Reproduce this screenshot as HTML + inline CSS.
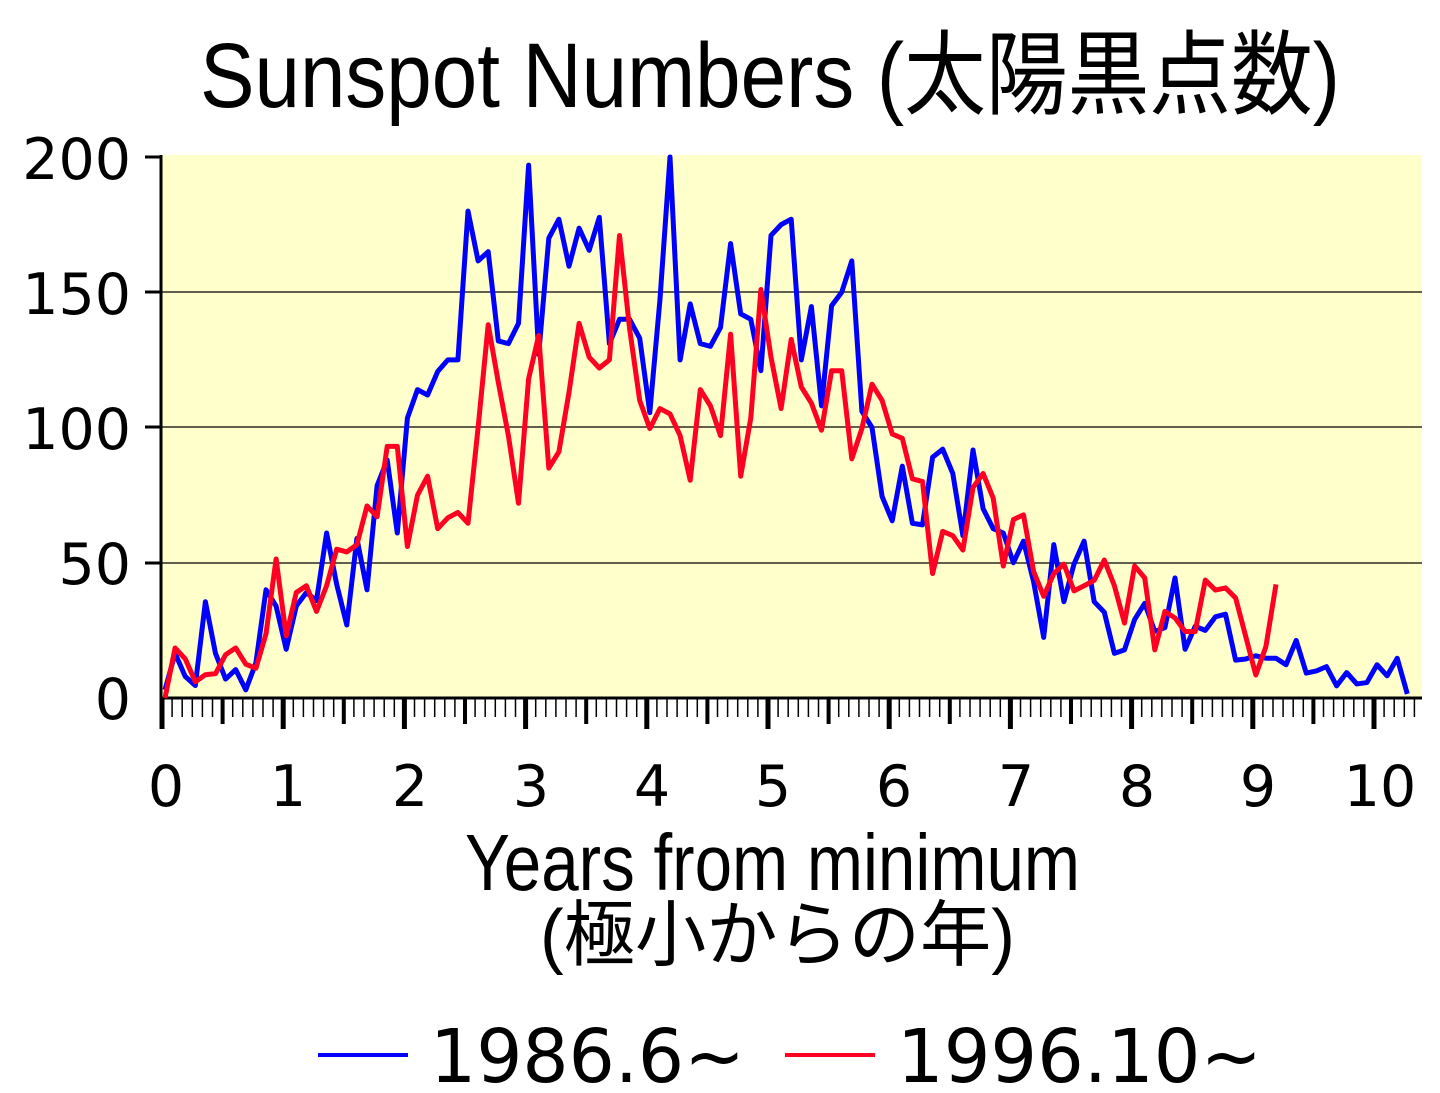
<!DOCTYPE html>
<html><head><meta charset="utf-8"><style>html,body{margin:0;padding:0;background:#fff}svg{display:block}</style></head>
<body>
<svg width="1440" height="1093" viewBox="0 0 1440 1093" xmlns="http://www.w3.org/2000/svg">
<rect x="0" y="0" width="1440" height="1093" fill="#fff"/>
<text x="200" y="107" font-family="Liberation Sans, Noto Sans CJK JP, sans-serif" font-size="92" textLength="1140" lengthAdjust="spacingAndGlyphs">Sunspot Numbers (太陽黒点数)</text>
<rect x="162" y="155" width="1260" height="543" fill="#FFFFCC"/>
<g stroke="#000" stroke-width="1.2">
<line x1="162" y1="292" x2="1422" y2="292"/>
<line x1="162" y1="427" x2="1422" y2="427"/>
<line x1="162" y1="563" x2="1422" y2="563"/>
</g>
<g stroke="#000" stroke-width="3">
<line x1="161" y1="155" x2="161" y2="700"/>
<line x1="145" y1="157" x2="161" y2="157"/>
<line x1="145" y1="292" x2="161" y2="292"/>
<line x1="145" y1="427" x2="161" y2="427"/>
<line x1="145" y1="563" x2="161" y2="563"/>
<line x1="160" y1="698" x2="1422" y2="698"/>
</g>
<g id="ticks" stroke="#000">
<path stroke-width="1.5" d="M172.1 698v19M182.2 698v19M192.3 698v19M202.4 698v19M212.5 698v19M232.7 698v19M242.8 698v19M252.9 698v19M263 698v19M273.1 698v19M293.3 698v19M303.4 698v19M313.5 698v19M323.6 698v19M333.7 698v19M353.9 698v19M364 698v19M374.1 698v19M384.2 698v19M394.3 698v19M414.5 698v19M424.6 698v19M434.7 698v19M444.8 698v19M454.9 698v19M475.1 698v19M485.2 698v19M495.3 698v19M505.4 698v19M515.5 698v19M535.7 698v19M545.8 698v19M555.9 698v19M566 698v19M576.1 698v19M596.3 698v19M606.4 698v19M616.5 698v19M626.6 698v19M636.7 698v19M656.9 698v19M667 698v19M677.1 698v19M687.2 698v19M697.3 698v19M717.5 698v19M727.6 698v19M737.7 698v19M747.8 698v19M757.9 698v19M778.1 698v19M788.2 698v19M798.3 698v19M808.4 698v19M818.5 698v19M838.7 698v19M848.8 698v19M858.9 698v19M869 698v19M879.1 698v19M899.3 698v19M909.4 698v19M919.5 698v19M929.6 698v19M939.7 698v19M959.9 698v19M970 698v19M980.1 698v19M990.2 698v19M1000.3 698v19M1020.5 698v19M1030.6 698v19M1040.7 698v19M1050.8 698v19M1060.9 698v19M1081.1 698v19M1091.2 698v19M1101.3 698v19M1111.4 698v19M1121.5 698v19M1141.7 698v19M1151.8 698v19M1161.9 698v19M1172 698v19M1182.1 698v19M1202.3 698v19M1212.4 698v19M1222.5 698v19M1232.6 698v19M1242.7 698v19M1262.9 698v19M1273 698v19M1283.1 698v19M1293.2 698v19M1303.3 698v19M1323.5 698v19M1333.6 698v19M1343.7 698v19M1353.8 698v19M1363.9 698v19M1384.1 698v19M1394.2 698v19M1404.3 698v19M1414.4 698v19"/>
<path stroke-width="4" d="M222.6 698v26M343.8 698v26M465 698v26M586.2 698v26M707.4 698v26M828.6 698v26M949.8 698v26M1071 698v26M1192.2 698v26M1313.4 698v26"/>
<path stroke-width="5" d="M162 698v31M283.2 698v31M404.4 698v31M525.6 698v31M646.8 698v31M768 698v31M889.2 698v31M1010.4 698v31M1131.6 698v31M1252.8 698v31M1374 698v31"/>
</g>
<g font-family="DejaVu Sans, sans-serif" font-size="57" fill="#000">
<g text-anchor="end">
<text x="131" y="179">200</text>
<text x="131" y="314">150</text>
<text x="131" y="449">100</text>
<text x="131" y="584">50</text>
<text x="131" y="719">0</text>
</g>
<g text-anchor="middle">
<text x="166" y="806">0</text><text x="288" y="806">1</text><text x="410" y="806">2</text><text x="531" y="806">3</text><text x="652" y="806">4</text><text x="773" y="806">5</text><text x="894" y="806">6</text><text x="1016" y="806">7</text><text x="1137" y="806">8</text><text x="1258" y="806">9</text><text x="1380" y="806">10</text>
</g>
</g>
<g transform="translate(165,698) scale(10.1,-2.705)" fill="none" stroke-linejoin="round">
<polyline vector-effect="non-scaling-stroke" stroke="#0000FF" stroke-width="5" points="0,3 1,16.5 2,8 3,4.6 4,35.6 5,16.5 6,7 7,10.5 8,3 9,13 10,40 11,34 12,18 13,34 14,39 15,36 16,61 17,42 18,27 19,59 20,40 21,78.5 22,88 23,61 24,103.5 25,114 26,112 27,120.7 28,125 29,125 30,180 31,161.6 32,165 33,132 34,131 35,138.5 36,197 37,127 38,170 39,177 40,159.6 41,173.7 42,165.5 43,177.7 44,131 45,140 46,140 47,133 48,105.5 49,147 50,200 51,125 52,145.7 53,131 54,130 55,137 56,168 57,142 58,140 59,121 60,171 61,175 62,177 63,125 64,144.7 65,108 66,145 67,150 68,161.6 69,106 70,100 71,74.5 72,65.5 73,85.7 74,64.6 75,64 76,89 77,92 78,83 79,60 80,91.7 81,70 82,62.6 83,61 84,50 85,58 86,43 87,22.4 88,56.7 89,35.6 90,49.5 91,58 92,35.6 93,31.7 94,16.5 95,17.8 96,29 97,35 98,24.6 99,26 100,44.4 101,18 102,26.5 103,25 104,30 105,31 106,14 107,14.4 108,15.6 109,14.7 110,14.7 111,12.3 112,21.3 113,9.2 114,10 115,11.6 116,4.5 117,9.4 118,5.2 119,5.7 120,12.3 121,8.2 122,14.7 123,1.5"/>
<polyline vector-effect="non-scaling-stroke" stroke="#FF0022" stroke-width="5" points="0,0 1,18.5 2,14.5 3,6 4,8.6 5,9 6,16 7,18.5 8,12.5 9,11 10,23.7 11,51.4 12,23 13,39 14,41.5 15,32 16,41.5 17,55 18,54 19,56.7 20,71 21,67 22,93 23,93 24,56 25,75 26,82 27,62.6 28,66.6 29,68.6 30,64.6 31,100 32,138 33,116.7 34,97 35,72 36,118 37,134 38,85 39,91 40,113 41,138.5 42,126 43,122 44,125 45,171 46,136.5 47,110 48,99.6 49,107 50,105 51,97 52,80.5 53,114 54,108 55,97 56,134.5 57,82 58,103.5 59,151 60,126 61,107 62,132.6 63,115 64,109 65,99 66,121 67,121 68,88.4 69,99.6 70,116 71,110 72,97.6 73,96 74,81 75,80 76,46 77,61.6 78,60 79,54.7 80,77.8 81,83 82,73.9 83,48.8 84,66 85,67.7 86,46.8 87,37.6 88,46 89,49.5 90,39.6 91,41.5 92,43.5 93,51 94,41.5 95,27.7 96,48.8 97,44.4 98,17.8 99,32 100,29.6 101,24.6 102,24.6 103,43.6 104,39.9 105,40.7 106,37 107,22.8 108,8.5 109,19 110,42"/>
</g>
<text x="465" y="890" font-family="Liberation Sans, sans-serif" font-size="80" textLength="615" lengthAdjust="spacingAndGlyphs">Years from minimum</text>
<text x="540" y="960" font-family="Liberation Sans, Noto Sans CJK JP, sans-serif" font-size="72" textLength="475" lengthAdjust="spacingAndGlyphs">(極小からの年)</text>
<line x1="318" y1="1055" x2="408" y2="1055" stroke="#0000FF" stroke-width="4"/>
<text x="430" y="1082" font-family="DejaVu Sans, sans-serif" font-size="74" textLength="315" lengthAdjust="spacingAndGlyphs">1986.6~</text>
<line x1="785" y1="1055" x2="875" y2="1055" stroke="#FF0022" stroke-width="4"/>
<text x="897" y="1082" font-family="DejaVu Sans, sans-serif" font-size="74" textLength="365" lengthAdjust="spacingAndGlyphs">1996.10~</text>
</svg>
</body></html>
